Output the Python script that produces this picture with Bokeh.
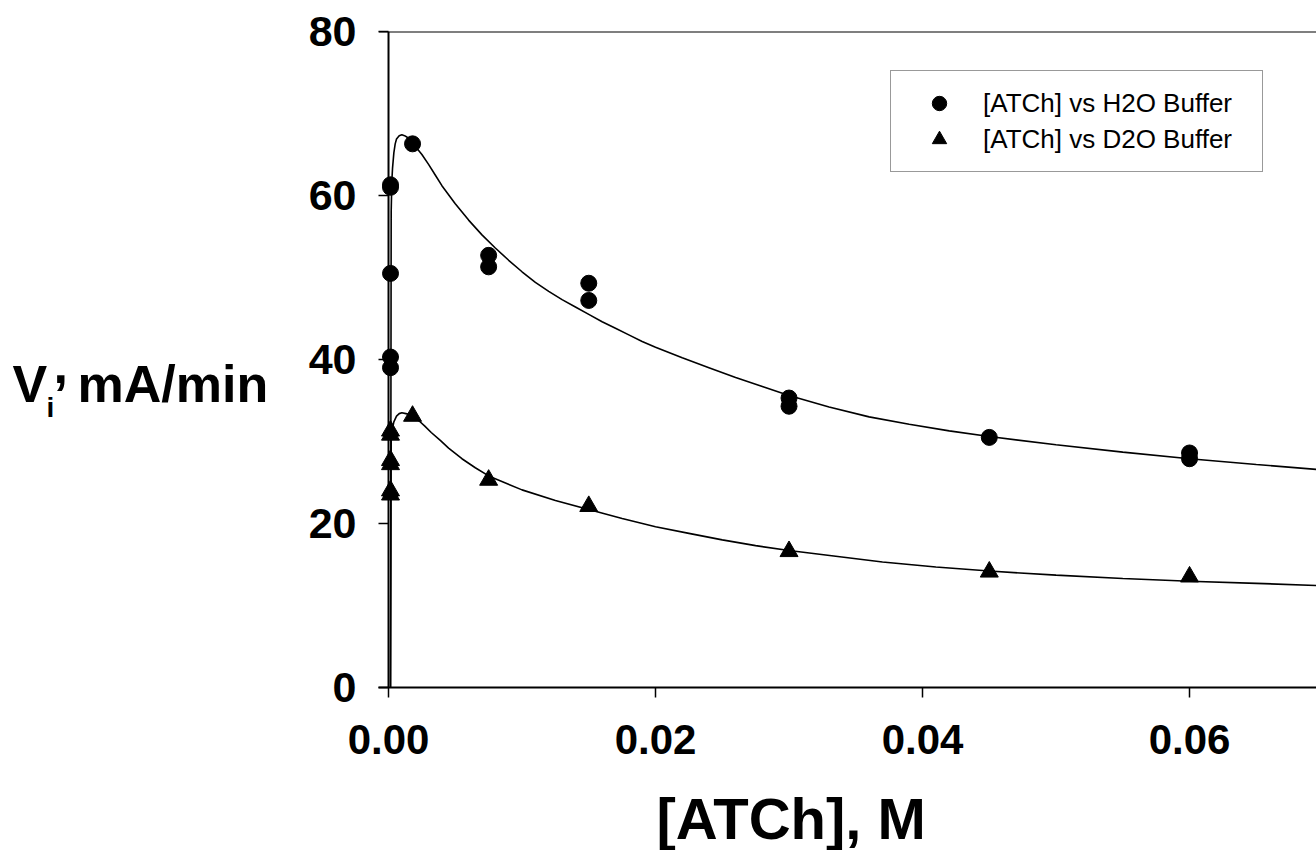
from bokeh.plotting import figure
from bokeh.layouts import row, column
from bokeh.models import (Range1d, Span, Legend, LegendItem, FixedTicker,
                          NumeralTickFormatter)
from bokeh.core.properties import value
from bokeh.embed import file_html
from bokeh.resources import INLINE

# ---- data ----
h2o_x = [0.00015, 0.00015, 0.00015, 0.00015, 0.00015, 0.0018, 0.0075, 0.0075,
         0.015, 0.015, 0.03, 0.03, 0.045, 0.06, 0.06]
h2o_y = [39.0, 40.3, 50.5, 61.0, 61.3, 66.3, 52.7, 51.3, 49.3, 47.2, 35.3, 34.3,
         30.5, 28.6, 27.9]

d2o_x = [0.00015, 0.00015, 0.00015, 0.00015, 0.00015, 0.00015, 0.0018, 0.0075,
         0.015, 0.03, 0.045, 0.06]
d2o_y = [23.5, 24.0, 27.2, 27.7, 30.8, 31.3, 33.1, 25.3, 22.1, 16.6, 14.1, 13.5]

# fitted curves, points
h2o_fit_x = [0.00015, 0.0002, 0.00025, 0.0003, 0.0004, 0.0005, 0.0006, 0.0008,
             0.001, 0.0012, 0.0014, 0.0016, 0.0018, 0.0025, 0.003, 0.0035, 0.004,
             0.005, 0.006, 0.007, 0.008, 0.009, 0.010, 0.011, 0.012, 0.013,
             0.014, 0.015, 0.016, 0.017, 0.018, 0.019, 0.020, 0.022, 0.024,
             0.026, 0.028, 0.030, 0.033, 0.036, 0.039, 0.042, 0.045, 0.050,
             0.055, 0.060, 0.065, 0.0695]
h2o_fit_y = [0.0, 58.0, 61.8, 63.3, 65.2, 66.3, 66.9, 67.3, 67.4, 67.3, 67.1,
             66.8, 66.4, 65.0, 63.8, 62.5, 61.2, 59.0, 57.0, 55.2, 53.6, 52.1,
             50.7, 49.4, 48.3, 47.3, 46.4, 45.5, 44.6, 43.8, 43.0, 42.2, 41.5,
             40.2, 39.0, 37.8, 36.7, 35.6, 34.2, 33.0, 32.1, 31.3, 30.6, 29.6,
             28.7, 27.9, 27.2, 26.6]

d2o_fit_x = [0.00015, 0.0002, 0.0003, 0.0004, 0.0006, 0.0008, 0.001, 0.0013,
             0.0016, 0.0019, 0.0023, 0.0027, 0.0032, 0.0039, 0.0045, 0.0055,
             0.0065, 0.0075, 0.010, 0.0125, 0.015, 0.0175, 0.020, 0.0225, 0.025,
             0.0275, 0.030, 0.0335, 0.037, 0.041, 0.045, 0.050, 0.055, 0.060,
             0.065, 0.0695]
d2o_fit_y = [0.0, 30.0, 31.6, 32.4, 33.1, 33.4, 33.5, 33.4, 33.3, 33.0, 32.5,
             31.9, 31.1, 30.1, 29.2, 27.9, 26.8, 25.8, 24.1, 22.8, 21.7, 20.6,
             19.6, 18.8, 18.0, 17.3, 16.7, 16.0, 15.3, 14.7, 14.2, 13.7, 13.3,
             12.95, 12.7, 12.44]

x_ticks = [0, 0.02, 0.04, 0.06]
y_ticks = [0, 20, 40, 60, 80]

FONT = "Liberation Sans"
H = 850          # total page height used
P_H = 787        # height of the main plot canvas
LEFT_W = 300     # width of the panel holding the y title

# ---------------- main plot ----------------
p = figure(frame_width=938, frame_height=656, output_backend="svg",
           toolbar_location=None,
           x_range=Range1d(-0.00075, 0.06951), y_range=Range1d(0, 80),
           min_border_left=78, min_border_right=0, min_border_top=31,
           min_border_bottom=P_H - 31 - 656)
p.outline_line_color = None
p.grid.visible = False
p.background_fill_color = "white"
p.border_fill_color = "white"

xa = p.xaxis[0]
xa.ticker = FixedTicker(ticks=x_ticks)
xa.formatter = NumeralTickFormatter(format="0.00")
xa.minor_tick_line_color = None
xa.major_tick_in = 0
xa.major_tick_out = 10
xa.major_tick_line_width = 1.5
xa.axis_line_width = 2
xa.major_label_text_font = FONT
xa.major_label_text_font_style = "bold"
xa.major_label_text_font_size = "42px"
xa.major_label_text_color = "black"
xa.major_label_standoff = 27

ya = p.yaxis[0]
ya.ticker = FixedTicker(ticks=y_ticks)
ya.minor_tick_line_color = None
ya.axis_line_color = None
ya.major_tick_in = 10
ya.major_tick_out = 0
ya.major_tick_line_width = 1.5
ya.major_label_text_font = FONT
ya.major_label_text_font_style = "bold"
ya.major_label_text_font_size = "43px"
ya.major_label_text_color = "black"
ya.major_label_standoff = 22

p.add_layout(Span(location=0, dimension="height", line_color="black", line_width=2))
p.add_layout(Span(location=80, dimension="width", line_color="black", line_width=2))

p.line(h2o_fit_x, h2o_fit_y, line_color="black", line_width=1.6)
p.line(d2o_fit_x, d2o_fit_y, line_color="black", line_width=1.6)

r1 = p.scatter(h2o_x, h2o_y, marker="circle", size=16, fill_color="black",
               line_color="black")
r2 = p.scatter(d2o_x, d2o_y, marker="triangle", size=18, fill_color="black",
               line_color="black")

legend = Legend(items=[LegendItem(label="[ATCh] vs H2O Buffer", renderers=[r1]),
                       LegendItem(label="[ATCh] vs D2O Buffer", renderers=[r2])],
                location=(512, 515), border_line_color="#333333",
                border_line_width=1.5, padding=14, spacing=0, margin=0,
                glyph_width=68, glyph_height=36, label_height=36,
                label_width=265, label_standoff=10,
                label_text_font=FONT, label_text_font_size="26px",
                label_text_color="black",
                background_fill_color="white", background_fill_alpha=1)
p.add_layout(legend)


def blank(width, height):
    f = figure(width=width, height=height, output_backend="svg",
               toolbar_location=None, x_range=Range1d(0, width),
               y_range=Range1d(0, height), x_axis_type=None, y_axis_type=None,
               min_border=0)
    f.outline_line_color = None
    f.grid.visible = False
    f.background_fill_color = "white"
    f.border_fill_color = "white"
    return f


def put_text(f, x, y_from_top, txt, size_px):
    # baseline placement; the renderer draws ~0.37 em lower than the anchor,
    # so lift the anchor by that amount
    y = f.height - y_from_top + 0.37 * size_px
    f.text(x=[x], y=[y], text=[txt], text_font=value(FONT),
           text_font_style="bold", text_font_size=value(f"{size_px}px"),
           text_color="black", text_baseline="alphabetic", text_align="left")


# ---------------- left panel: y-axis title ----------------
pl = blank(LEFT_W, H)
put_text(pl, 12, 403, "V", 52)
put_text(pl, 46, 417, "i", 28)
put_text(pl, 53, 384, ",", 52)
put_text(pl, 77, 403, "mA/min", 52)

# ---------------- bottom panel: x-axis title ----------------
pb = blank(938 + 78, H - P_H)
# empirical horizontal correction of the bottom panel (-52 px)
put_text(pb, 653 - LEFT_W - 52, 839 - P_H, "[ATCh], M", 58)

layout = row(pl, column(p, pb, spacing=0), spacing=0)
open("out.html", "w").write(file_html(layout, INLINE))
